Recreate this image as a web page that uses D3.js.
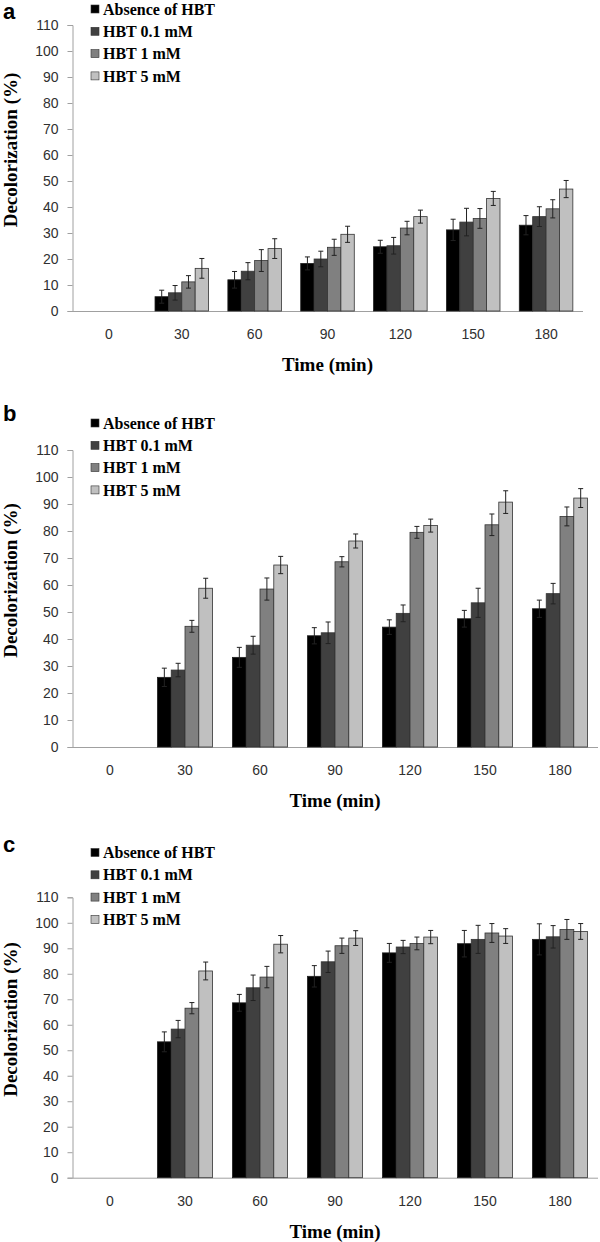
<!DOCTYPE html>
<html>
<head>
<meta charset="utf-8">
<script src="https://cdn.jsdelivr.net/npm/d3@7/dist/d3.min.js"></script>
<style>
  html, body { margin: 0; padding: 0; background: #fff; }
  svg { display: block; }
</style>
</head>
<body>
<svg id="chart" width="600" height="1242"></svg>
<script>
// ---------- DATA ----------
const categories = ["0", "30", "60", "90", "120", "150", "180"];
const seriesNames = ["Absence of HBT", "HBT 0.1 mM", "HBT 1 mM", "HBT 5 mM"];
const yTicks = [0, 10, 20, 30, 40, 50, 60, 70, 80, 90, 100, 110];

// Panel a
const aAbsence = [0, 5.5, 12.0, 18.3, 24.7, 31.2, 33.0];
const aHbt01   = [0, 7.0, 15.3, 20.0, 25.1, 34.2, 36.3];
const aHbt1    = [0, 11.2, 19.4, 24.5, 31.9, 35.6, 39.3];
const aHbt5    = [0, 16.4, 24.0, 29.5, 36.3, 43.3, 46.9];
const aErrAbsence = [0, 2.5, 3.2, 2.5, 2.5, 4.1, 3.7];
const aErrHbt01   = [0, 2.8, 3.3, 3.0, 3.2, 5.3, 3.8];
const aErrHbt1    = [0, 2.4, 4.2, 3.1, 2.6, 3.8, 3.5];
const aErrHbt5    = [0, 3.8, 3.8, 3.1, 2.5, 2.7, 3.3];

// Panel b
const bAbsence = [0, 25.8, 33.2, 41.2, 44.4, 47.5, 51.2];
const bHbt01   = [0, 28.5, 37.7, 42.3, 49.5, 53.4, 56.8];
const bHbt1    = [0, 44.7, 58.5, 68.6, 79.5, 82.3, 85.4];
const bHbt5    = [0, 58.8, 67.4, 76.3, 82.0, 90.7, 92.2];
const bErrAbsence = [0, 3.4, 3.7, 3.0, 2.7, 3.1, 3.2];
const bErrHbt01   = [0, 2.5, 3.3, 4.0, 3.1, 5.4, 3.8];
const bErrHbt1    = [0, 2.2, 4.1, 1.9, 2.2, 4.0, 3.5];
const bErrHbt5    = [0, 3.7, 3.2, 2.6, 2.4, 4.2, 3.5];

// Panel c
const cAbsence = [0, 53.3, 68.6, 79.0, 88.2, 91.8, 93.5];
const cHbt01   = [0, 58.3, 74.5, 84.7, 90.5, 93.5, 94.5];
const cHbt1    = [0, 66.5, 78.7, 91.0, 91.9, 96.0, 97.4];
const cHbt5    = [0, 81.1, 91.6, 94.0, 94.4, 94.8, 96.6];
const cErrAbsence = [0, 3.9, 3.3, 4.2, 3.7, 5.2, 6.1];
const cErrHbt01   = [0, 3.4, 5.0, 4.2, 2.6, 5.5, 4.4];
const cErrHbt1    = [0, 2.2, 4.2, 3.0, 2.5, 3.7, 3.9];
const cErrHbt5    = [0, 3.5, 3.4, 2.9, 2.6, 2.9, 3.1];

// ---------- STYLE / LAYOUT ----------
const fills = ["#000000", "#404040", "#808080", "#c0c0c0"];
const serif = "'Liberation Serif', 'Times New Roman', serif";
const sans = "'Liberation Sans', Arial, sans-serif";

const panels = [
  { letter: "a", letterY: 19, legendY: 9, yBottom: 311, yTop: 25, xLeft: 72.5, xRight: 582.5,
    series: [aAbsence, aHbt01, aHbt1, aHbt5], errors: [aErrAbsence, aErrHbt01, aErrHbt1, aErrHbt5] },
  { letter: "b", letterY: 421, legendY: 423, yBottom: 747, yTop: 450, xLeft: 72.5, xRight: 597.5,
    series: [bAbsence, bHbt01, bHbt1, bHbt5], errors: [bErrAbsence, bErrHbt01, bErrHbt1, bErrHbt5] },
  { letter: "c", letterY: 852, legendY: 852.5, yBottom: 1177.7, yTop: 897.3, xLeft: 72.5, xRight: 597.5,
    series: [cAbsence, cHbt01, cHbt1, cHbt5], errors: [cErrAbsence, cErrHbt01, cErrHbt1, cErrHbt5] }
];

const svg = d3.select("#chart");
svg.append("rect").attr("width", 600).attr("height", 1242).attr("fill", "#fff");

panels.forEach(p => {
  const g = svg.append("g");
  const y = d3.scaleLinear().domain([0, 110]).range([p.yBottom, p.yTop]);
  const x = d3.scaleBand().domain(categories).range([p.xLeft, p.xRight]).padding(0);
  const bw = x.bandwidth();
  const gw = bw * 0.735;
  const xs = d3.scaleBand().domain(seriesNames).range([(bw - gw) / 2, (bw + gw) / 2]).padding(0);

  // y axis
  const yAxis = d3.axisLeft(y).tickValues(yTicks).tickSize(5).tickPadding(9);
  const ya = g.append("g").attr("transform", `translate(${p.xLeft},0)`).call(yAxis);
  ya.select(".domain").attr("stroke", "#a0a0a0").attr("stroke-width", 1);
  ya.selectAll(".tick line").attr("stroke", "#a0a0a0");
  ya.selectAll(".tick text").attr("fill", "#303030").style("font-family", sans).style("font-size", "14px");

  // x axis
  const xAxis = d3.axisBottom(x).tickSize(0).tickPadding(18);
  const xa = g.append("g").attr("transform", `translate(0,${p.yBottom})`).call(xAxis);
  xa.select(".domain").attr("stroke", "#a0a0a0").attr("stroke-width", 1);
  xa.selectAll(".tick text").attr("fill", "#303030").style("font-family", sans).style("font-size", "14px");

  // bars
  seriesNames.forEach((s, si) => {
    const vals = p.series[si];
    const errs = p.errors[si];
    const data = categories.map((c, i) => ({ c, v: vals[i], e: errs[i] })).filter(d => d.v > 0);
    g.append("g").selectAll("rect").data(data).join("rect")
      .attr("x", d => x(d.c) + xs(s))
      .attr("y", d => y(d.v))
      .attr("width", xs.bandwidth())
      .attr("height", d => y(0) - y(d.v))
      .attr("fill", fills[si])
      .attr("stroke", si === 0 ? "#202020" : "#333333")
      .attr("stroke-width", 0.8);
    const eg = g.append("g").attr("stroke", "#222").attr("stroke-width", 1);
    data.forEach(d => {
      const cx = x(d.c) + xs(s) + xs.bandwidth() / 2;
      eg.append("line").attr("x1", cx).attr("x2", cx).attr("y1", y(d.v + d.e)).attr("y2", y(d.v - d.e));
      eg.append("line").attr("x1", cx - 2.5).attr("x2", cx + 2.5).attr("y1", y(d.v + d.e)).attr("y2", y(d.v + d.e));
      eg.append("line").attr("x1", cx - 2.5).attr("x2", cx + 2.5).attr("y1", y(d.v - d.e)).attr("y2", y(d.v - d.e));
    });
  });

  // legend
  const lg = g.append("g");
  seriesNames.forEach((s, si) => {
    const cy = p.legendY + si * 22.3;
    lg.append("rect").attr("x", 91).attr("y", cy - 4).attr("width", 8).attr("height", 8)
      .attr("fill", fills[si]).attr("stroke", "#333").attr("stroke-width", 0.6);
    lg.append("text").attr("x", 103).attr("y", cy).attr("dy", "0.35em")
      .style("font-family", serif).style("font-weight", "bold").style("font-size", "16px")
      .attr("fill", "#000").text(s);
  });

  // panel letter
  g.append("text").attr("x", 3).attr("y", p.letterY)
    .style("font-family", sans).style("font-weight", "bold").style("font-size", "22px")
    .attr("fill", "#000").text(p.letter);

  // axis titles
  const midY = (p.yBottom + p.yTop) / 2 - 18;
  g.append("text").attr("transform", `translate(17,${midY}) rotate(-90)`)
    .attr("text-anchor", "middle")
    .style("font-family", serif).style("font-weight", "bold").style("font-size", "19px")
    .attr("fill", "#000").text("Decolorization (%)");
  g.append("text").attr("x", (p.xLeft + p.xRight) / 2).attr("y", p.yBottom + 60)
    .attr("text-anchor", "middle")
    .style("font-family", serif).style("font-weight", "bold").style("font-size", "19px")
    .attr("fill", "#000").text("Time (min)");
});
</script>
</body>
</html>
